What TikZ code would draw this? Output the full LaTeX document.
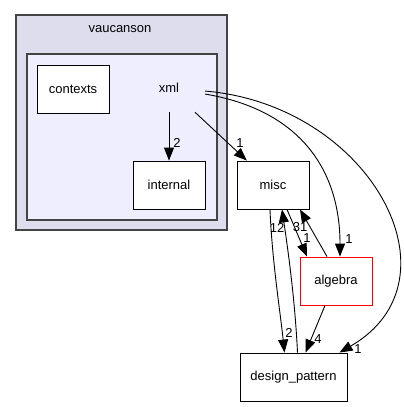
\documentclass[tikz,border=0pt]{standalone}
\usepackage{fontspec}
\setmainfont{Liberation Sans}
\usetikzlibrary{arrows.meta,calc}
\definecolor{outerfill}{HTML}{DDDDEE}
\definecolor{innerfill}{HTML}{EEEEFF}
\definecolor{clborder}{HTML}{444444}
\begin{document}
\begin{tikzpicture}[x=1pt,y=-1pt,
  font=\fontsize{13}{15}\selectfont,
  dirbox/.style={draw=black, fill=white, line width=0.9pt, minimum width=72pt, minimum height=48pt, inner sep=0pt},
  edge/.style={draw=black, line width=0.9pt, -{Triangle[length=13pt,width=10pt]}},
  elabel/.style={inner sep=0pt}]
\useasboundingbox (0,0) rectangle (404,407);
% clusters
\draw[fill=outerfill, draw=clborder, line width=1.1pt] (16,15) rectangle (227,230);
\node[elabel] (vaucanson) at (120,29) {vaucanson};
\draw[fill=innerfill, draw=clborder, line width=1.1pt] (27,54) rectangle (217,220);
% nodes
\node[dirbox] (contexts) at (73,89) {contexts};
\node[minimum width=72pt, minimum height=48pt, inner sep=0pt] (xml) at (169,88) {xml};
\node[dirbox] (internal) at (169,185) {internal};
\node[dirbox] (misc) at (273,185) {misc};
\node[dirbox, draw=red] (algebra) at (336,281) {algebra};
\node[dirbox, minimum width=107pt] (dp) at (293.5,377) {design\_pattern};
% edges
\draw[edge] (xml) -- (internal);
\node[elabel] (l1) at (177,143) {2};
\draw[edge] (xml) -- (misc);
\node[elabel] (l2) at (240,143) {1};
\draw[edge] (xml) .. controls (300,110) and (340,170) .. ([xshift=4pt]algebra.north);
\node[elabel] (l3) at (349,239) {1};
\draw[edge] (xml) .. controls (370,105) and (465,280) .. ([xshift=46pt]dp.north);
\node[elabel] (l4) at (358,349) {1};
\draw[edge] ([xshift=14pt]misc.south) -- ([xshift=-29pt]algebra.north);
\node[elabel] (l5) at (307,238) {1};
\draw[edge] ([xshift=-9pt]algebra.north) -- ([xshift=27pt]misc.south);
\node[elabel] (l6) at (300,227) {31};
\draw[edge] ([xshift=-3pt]misc.south) .. controls (272,260) and (280,310) .. ([xshift=-9pt]dp.north);
\node[elabel] (l7) at (289,333) {2};
\draw[edge] ([xshift=4pt]dp.north) .. controls (295,300) and (288,250) .. ([xshift=9pt]misc.south);
\node[elabel] (l8) at (277,228) {12};
\draw[edge] ([xshift=-11pt]algebra.south) -- ([xshift=12pt]dp.north);
\node[elabel] (l9) at (318,339) {4};
\end{tikzpicture}
\end{document}
